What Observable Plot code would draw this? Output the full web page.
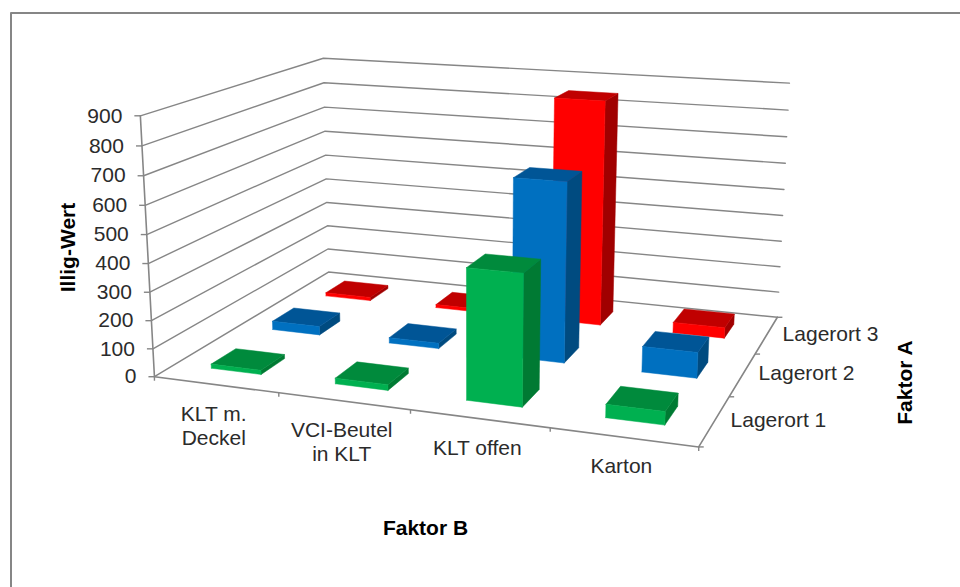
<!DOCTYPE html>
<html>
<head>
<meta charset="utf-8">
<script src="https://cdn.jsdelivr.net/npm/d3@7"></script>
<script src="https://cdn.jsdelivr.net/npm/@observablehq/plot@0.6"></script>
<style>
  html, body { margin: 0; padding: 0; background: #fff; }
  svg { display: block; }
</style>
</head>
<body>
<div id="chart"></div>
<script>
// Illig values by storage location (Faktor A) and packaging (Faktor B)
const categories = ["KLT m.\nDeckel", "VCI-Beutel\nin KLT", "KLT offen", "Karton"];
const locations = ["Lagerort 1", "Lagerort 2", "Lagerort 3"];
const lagerort1 = [15, 20, 450, 45];
const lagerort2 = [32, 20, 648, 92];
const lagerort3 = [13, 12, 850, 40];
const valueTicks = [0, 100, 200, 300, 400, 500, 600, 700, 800, 900];
const valueMax = 900;

// Bar colours per location: front, top and side faces
const palette = [
  {front: "#00B050", top: "#008A3C", side: "#007A33"},
  {front: "#0070C0", top: "#005596", side: "#004B80"},
  {front: "#FF0000", top: "#C00000", side: "#A00000"}
];

// Camera: corners of the 3D box (category, depth, value share) on the canvas
const boxCorners = [
  [0, 0, 0, 154, 376], [1, 0, 0, 698, 447], [0, 1, 0, 328, 272], [1, 1, 0, 777, 316],
  [0, 0, 1, 140, 115], [0, 1, 1, 322.7, 57.7], [1, 1, 1, 789, 83]
];

// Least-squares fit of the 3x4 perspective matrix with its last term fixed to 1
function fitCamera(points) {
  const rows = [], rhs = [];
  for (const [u, v, w, x, y] of points) {
    rows.push([u, v, w, 1, 0, 0, 0, 0, -x * u, -x * v, -x * w]); rhs.push(x);
    rows.push([0, 0, 0, 0, u, v, w, 1, -y * u, -y * v, -y * w]); rhs.push(y);
  }
  const n = 11;
  const A = d3.range(n).map(i => d3.range(n + 1).map(j =>
    d3.sum(rows, (r, k) => r[i] * (j < n ? r[j] : rhs[k]))));
  for (let c = 0; c < n; c++) {
    let p = c;
    for (let r = c + 1; r < n; r++) if (Math.abs(A[r][c]) > Math.abs(A[p][c])) p = r;
    [A[c], A[p]] = [A[p], A[c]];
    for (let r = 0; r < n; r++) {
      if (r === c) continue;
      const f = A[r][c] / A[c][c];
      for (let j = c; j <= n; j++) A[r][j] -= f * A[c][j];
    }
  }
  return A.map((r, i) => r[n] / r[i]);
}
const m = fitCamera(boxCorners);
function project(u, v, value) {
  const w = value / valueMax;
  const q = m[8] * u + m[9] * v + m[10] * w + 1;
  return {
    x: (m[0] * u + m[1] * v + m[2] * w + m[3]) / q,
    y: (m[4] * u + m[5] * v + m[6] * w + m[7]) / q
  };
}

// Gridlines run along the left wall and then the back wall
const grid = valueTicks.flatMap(t => [
  {level: t, ...project(0, 0, t)},
  {level: t, ...project(0, 1, t)},
  {level: t, ...project(1, 1, t)}
]);
const axes = [
  {id: "value", ...project(0, 0, 0)}, {id: "value", ...project(0, 0, valueMax)},
  {id: "category", ...project(0, 0, 0)}, {id: "category", ...project(1, 0, 0)},
  {id: "depth", ...project(1, 0, 0)}, {id: "depth", ...project(1, 1, 0)}
];
const categoryTicks = d3.range(categories.length + 1).map(i => project(i / categories.length, 0, 0));
const depthTicks = d3.range(locations.length + 1).map(j => project(1, j / locations.length, 0));

// Bar faces, painted from the back row forward and from left to right
const barHalfWidth = 0.051;
const barHalfDepth = 0.064;
const series = [lagerort1, lagerort2, lagerort3];
const faces = [];
for (let j = locations.length - 1; j >= 0; j--) {
  series[j].forEach((value, i) => {
    const uc = (i + 0.5) / categories.length, vc = (j + 0.5) / locations.length;
    const u0 = uc - barHalfWidth, u1 = uc + barHalfWidth;
    const v0 = vc - barHalfDepth, v1 = vc + barHalfDepth;
    const shape = {
      side: [[u1, v0, 0], [u1, v1, 0], [u1, v1, value], [u1, v0, value], [u1, v0, 0]],
      top: [[u0, v0, value], [u1, v0, value], [u1, v1, value], [u0, v1, value], [u0, v0, value]],
      front: [[u0, v0, 0], [u1, v0, 0], [u1, v0, value], [u0, v0, value], [u0, v0, 0]]
    };
    for (const key of ["side", "top", "front"]) {
      for (const [a, b, c] of shape[key]) {
        faces.push({face: `${j}-${i}-${key}`, color: palette[j][key], ...project(a, b, c)});
      }
    }
  });
}

const frameLine = [{x: 10.5, y: 587}, {x: 10.5, y: 12.5}, {x: 960, y: 12.5}];
const axisColor = "#868686";
const textColor = "#2b2b2b";

const chart = Plot.plot({
  width: 960,
  height: 587,
  margin: 0,
  x: {domain: [0, 960], range: [0, 960], axis: null},
  y: {domain: [0, 587], range: [0, 587], axis: null},
  color: {type: "identity"},
  style: {fontFamily: "'Liberation Sans', Arial, sans-serif", background: "#fff"},
  marks: [
    Plot.line(frameLine, {x: "x", y: "y", stroke: axisColor, strokeWidth: 2}),
    Plot.line(grid, {x: "x", y: "y", z: "level", stroke: axisColor, strokeWidth: 1.4}),
    Plot.line(axes, {x: "x", y: "y", z: "id", stroke: axisColor, strokeWidth: 1.6}),
    Plot.link(valueTicks, {
      x1: t => project(0, 0, t).x, y1: t => project(0, 0, t).y,
      x2: t => project(0, 0, t).x - 6, y2: t => project(0, 0, t).y,
      stroke: axisColor, strokeWidth: 1.4
    }),
    Plot.link(categoryTicks, {
      x1: "x", y1: "y", x2: "x", y2: d => d.y + 4,
      stroke: axisColor, strokeWidth: 1.4
    }),
    Plot.link(depthTicks, {
      x1: "x", y1: "y", x2: d => d.x + 5, y2: "y",
      stroke: axisColor, strokeWidth: 1.4
    }),
    Plot.line(faces, {x: "x", y: "y", z: "face", fill: "color", stroke: "color", strokeWidth: 0.5}),
    Plot.text(valueTicks, {
      x: t => project(0, 0, t).x, y: t => project(0, 0, t).y, text: t => String(t),
      dx: -18, textAnchor: "end", fontSize: 21, fill: textColor
    }),
    Plot.text(categories, {
      x: (_, i) => project((i + 0.5) / categories.length, 0, 0).x,
      y: (_, i) => project((i + 0.5) / categories.length, 0, 0).y,
      text: d => d, dx: -2, dy: 19, lineAnchor: "top", lineHeight: 1.15,
      fontSize: 21, fill: textColor
    }),
    Plot.text(locations, {
      x: (_, j) => project(1, (j + 0.5) / locations.length, 0).x,
      y: (_, j) => project(1, (j + 0.5) / locations.length, 0).y,
      text: d => d, dx: 16, dy: -1, textAnchor: "start",
      fontSize: 21, fill: textColor
    }),
    Plot.text(["Faktor B"], {
      x: () => 425, y: () => 528, text: d => d, fontSize: 21, fontWeight: "bold", fill: "#000"
    }),
    Plot.text(["Illig-Wert"], {
      x: () => 68, y: () => 247, text: d => d, rotate: -90, fontSize: 21, fontWeight: "bold", fill: "#000"
    }),
    Plot.text(["Faktor A"], {
      x: () => 905, y: () => 382, text: d => d, rotate: -90, fontSize: 21, fontWeight: "bold", fill: "#000"
    })
  ]
});
document.getElementById("chart").append(chart);
</script>
</body>
</html>
